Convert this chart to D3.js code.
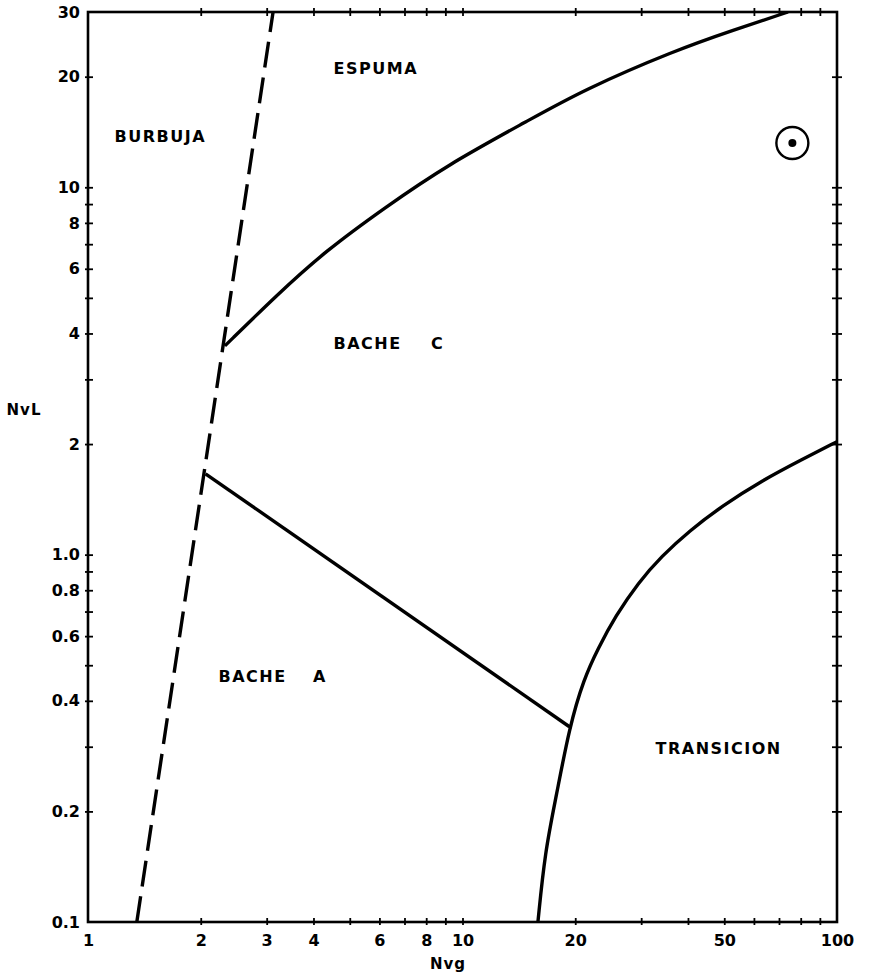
<!DOCTYPE html>
<html lang="es">
<head>
  <meta charset="UTF-8">
  <title>Mapa de patrones de flujo</title>
  <script src="https://d3js.org/d3.v7.min.js"></script>
  <style>
    body { margin: 0; background: #fff; }
    svg { display: block; }
    text { font-family: "DejaVu Sans", "Liberation Sans", Arial, sans-serif; font-weight: bold; fill: #000; }
    .region { font-size: 16px; letter-spacing: 1.5px; }
    .axis-title { font-size: 15px; letter-spacing: 1px; }
  </style>
</head>
<body>
  <svg id="chart" width="873" height="979"></svg>

  <script>
    // axis ticks
    const xTickLabels = [1, 2, 3, 4, 6, 8, 10, 20, 50, 100];
    const xTickMarks = [2, 3, 4, 5, 6, 7, 8, 9, 10, 20, 30, 40, 50, 60, 70, 80, 90];
    const yTickLabels = [0.1, 0.2, 0.4, 0.6, 0.8, 1, 2, 4, 6, 8, 10, 20, 30];
    const yTickMarks = [0.2, 0.3, 0.4, 0.5, 0.6, 0.7, 0.8, 0.9, 1, 2, 3, 4, 5, 6, 7, 8, 9, 10, 20];

    // boundaries [Nvg, NvL]
    const bubbleBoundary = [[1.35, 0.1], [3.12, 30]];
    const foamBoundary = [[2.32, 3.7], [3.2, 5.1], [4.3, 6.7], [6.2, 8.8], [9.1, 11.5],
                          [15, 15.2], [21, 18.4], [37, 23.6], [53, 26.8], [74, 30]];
    const slugABoundary = [[2.06, 1.66], [19.3, 0.34]];
    const transitionBoundary = [[15.9, 0.1], [16.6, 0.155], [17.8, 0.22], [19.3, 0.34], [21.1, 0.46],
                                [23, 0.555], [25.6, 0.68], [29.5, 0.84], [34, 0.99], [40.3, 1.16],
                                [49.5, 1.36], [63, 1.59], [81, 1.82], [100, 2.03]];
    const observedPoint = [76, 13.2];

    // region names and where they sit [Nvg, NvL]
    const regionNames = ["BURBUJA", "ESPUMA", "BACHE", "C", "BACHE", "A", "TRANSICION"];
    const regionAt = [[1.56, 13.8], [5.87, 21.1], [5.58, 3.77], [8.58, 3.77], [2.75, 0.467], [4.16, 0.467], [48.3, 0.298]];

    const svg = d3.select("#chart");
    const margin = { left: 88, right: 837, top: 12, bottom: 922 };

    const x = d3.scaleLog().domain([1, 100]).range([margin.left, margin.right]);
    const y = d3.scaleLog().domain([0.1, 30]).range([margin.bottom, margin.top]);

    const fmtY = d => d === 1 ? "1.0" : (d < 1 ? d.toFixed(1) : String(d));

    // ticks crossing the frame: inward part and outward part
    function tickAxis(axis, pos, vals, size) {
      return svg.append("g")
        .attr("transform", pos)
        .call(axis.tickValues(vals).tickSize(size).tickSizeOuter(0).tickFormat(""))
        .call(g => g.select(".domain").remove())
        .call(g => g.selectAll("line").attr("stroke", "#000").attr("stroke-width", 1.8));
    }

    tickAxis(d3.axisBottom(x), `translate(0,${margin.bottom})`, xTickMarks, 3);
    tickAxis(d3.axisTop(x), `translate(0,${margin.bottom})`, xTickMarks, 4);
    tickAxis(d3.axisTop(x), `translate(0,${margin.top})`, xTickMarks, 4);
    tickAxis(d3.axisBottom(x), `translate(0,${margin.top})`, xTickMarks, 4);
    tickAxis(d3.axisLeft(y), `translate(${margin.left},0)`, yTickMarks, 3);
    tickAxis(d3.axisRight(y), `translate(${margin.left},0)`, yTickMarks, 5);
    tickAxis(d3.axisRight(y), `translate(${margin.right},0)`, yTickMarks, 5);
    tickAxis(d3.axisLeft(y), `translate(${margin.right},0)`, yTickMarks, 5);

    // tick labels
    svg.append("g")
      .attr("transform", `translate(0,${margin.bottom})`)
      .call(d3.axisBottom(x).tickValues(xTickLabels).tickSize(0).tickPadding(13).tickFormat(d3.format("d")))
      .call(g => g.select(".domain").remove())
      .call(g => g.selectAll("text").attr("font-size", 16));

    svg.append("g")
      .attr("transform", `translate(${margin.left},0)`)
      .call(d3.axisLeft(y).tickValues(yTickLabels).tickSize(0).tickPadding(8).tickFormat(fmtY))
      .call(g => g.select(".domain").remove())
      .call(g => g.selectAll("text").attr("font-size", 16));

    // frame
    svg.append("rect")
      .attr("x", margin.left).attr("y", margin.top)
      .attr("width", margin.right - margin.left).attr("height", margin.bottom - margin.top)
      .attr("fill", "none").attr("stroke", "#000").attr("stroke-width", 2.6);

    svg.append("clipPath").attr("id", "plot")
      .append("rect").attr("x", margin.left).attr("y", margin.top)
      .attr("width", margin.right - margin.left).attr("height", margin.bottom - margin.top);

    const line = d3.line().x(d => x(d[0])).y(d => y(d[1]));
    const curve = d3.line().x(d => x(d[0])).y(d => y(d[1])).curve(d3.curveBasis);

    const plot = svg.append("g").attr("clip-path", "url(#plot)");

    plot.append("path")
      .attr("d", line(bubbleBoundary))
      .attr("fill", "none").attr("stroke", "#000").attr("stroke-width", 3.4)
      .attr("stroke-dasharray", "26,10");

    plot.append("path")
      .attr("d", curve(foamBoundary))
      .attr("fill", "none").attr("stroke", "#000").attr("stroke-width", 3.4);

    plot.append("path")
      .attr("d", line(slugABoundary))
      .attr("fill", "none").attr("stroke", "#000").attr("stroke-width", 3.4);

    plot.append("path")
      .attr("d", curve(transitionBoundary))
      .attr("fill", "none").attr("stroke", "#000").attr("stroke-width", 3.4);

    // observed point
    svg.append("circle")
      .attr("cx", x(observedPoint[0])).attr("cy", y(observedPoint[1])).attr("r", 16)
      .attr("fill", "none").attr("stroke", "#000").attr("stroke-width", 2.4);
    svg.append("circle")
      .attr("cx", x(observedPoint[0])).attr("cy", y(observedPoint[1])).attr("r", 4)
      .attr("fill", "#000");

    // region labels
    svg.append("g").selectAll("text")
      .data(regionNames)
      .join("text")
      .attr("class", "region")
      .attr("x", (d, i) => x(regionAt[i][0]))
      .attr("y", (d, i) => y(regionAt[i][1]))
      .attr("text-anchor", "middle")
      .attr("dy", "0.36em")
      .text(d => d);

    // axis titles
    svg.append("text").attr("class", "axis-title")
      .attr("x", 448).attr("y", 969).attr("text-anchor", "middle").text("Nvg");
    svg.append("text").attr("class", "axis-title")
      .attr("x", 24).attr("y", 415).attr("text-anchor", "middle").text("NvL");
  </script>
</body>
</html>
